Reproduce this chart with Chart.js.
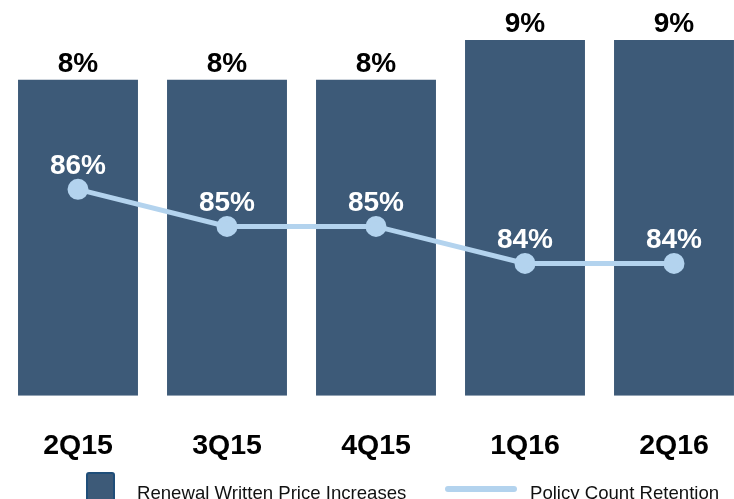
<!DOCTYPE html>
<html>
<head>
<meta charset="utf-8">
<script src="https://cdn.jsdelivr.net/npm/chart.js@4/dist/chart.umd.min.js"></script>
<style>
  html,body{margin:0;padding:0;background:#fff;overflow:hidden;}
  #wrap{position:relative;width:752px;height:499px;}
  .lg{position:absolute;font:18.6px 'Liberation Sans',Arial,sans-serif;color:#111;white-space:nowrap;}
</style>
</head>
<body>
<div id="wrap">
  <canvas id="c" width="752" height="499"></canvas>
  <div style="position:absolute;left:86px;top:472px;width:25px;height:30px;background:#3d5a78;border:2px solid #1f4e79;border-radius:3px;"></div>
  <div class="lg" style="left:137px;top:482px;">Renewal Written Price Increases</div>
  <div style="position:absolute;left:445px;top:486px;width:72px;height:6px;background:#b3d3ee;border-radius:3px;"></div>
  <div class="lg" style="left:530px;top:482px;">Policy Count Retention</div>
</div>
<script>
/* ---- data ---- */
var quarters=['2Q15','3Q15','4Q15','1Q16','2Q16'];
var priceIncrease=[8,8,8,9,9];      // Renewal Written Price Increases (%)
var retention=[86,85,85,84,84];     // Policy Count Retention (%)

var BAR='#3d5a78', LINE='#b3d3ee', FONT="'Liberation Sans',Arial,sans-serif";

/* labels above bars / points */
var valueLabels={
  id:'valueLabels',
  afterDatasetsDraw:function(chart){
    var ctx=chart.ctx;
    ctx.save();
    ctx.font='bold 28px '+FONT;
    ctx.textAlign='center';
    ctx.textBaseline='alphabetic';
    chart.getDatasetMeta(1).data.forEach(function(el,i){
      ctx.fillStyle='#000';
      ctx.fillText(priceIncrease[i]+'%',el.x,el.y-8);
    });
    chart.getDatasetMeta(0).data.forEach(function(el,i){
      ctx.fillStyle='#fff';
      ctx.fillText(retention[i]+'%',el.x,el.y-15);
    });
    ctx.restore();
  }
};

new Chart(document.getElementById('c'),{
  data:{labels:quarters,datasets:[
    {type:'line',label:'Policy Count Retention',data:retention,yAxisID:'y2',borderColor:LINE,backgroundColor:LINE,borderWidth:5,pointRadius:8,pointHoverRadius:8,tension:0,clip:false,order:0},
    {type:'bar',label:'Renewal Written Price Increases',data:priceIncrease,yAxisID:'y',backgroundColor:BAR,borderWidth:0,barPercentage:0.805,categoryPercentage:1,order:1}
  ]},
  plugins:[valueLabels],
  options:{
    responsive:false,animation:false,
    layout:{autoPadding:false,padding:{left:3.5,right:3.5,top:0.6,bottom:3}},
    plugins:{legend:{display:false},tooltip:{enabled:false}},
    scales:{
      x:{grid:{display:false,drawTicks:false},border:{display:false},
         ticks:{padding:33,color:'#000',font:{family:FONT,size:28.5,weight:'bold'}}},
      y:{display:false,min:0,max:10},
      y2:{display:false,min:80.43,max:91.09}
    }
  }
});
</script>
</body>
</html>
